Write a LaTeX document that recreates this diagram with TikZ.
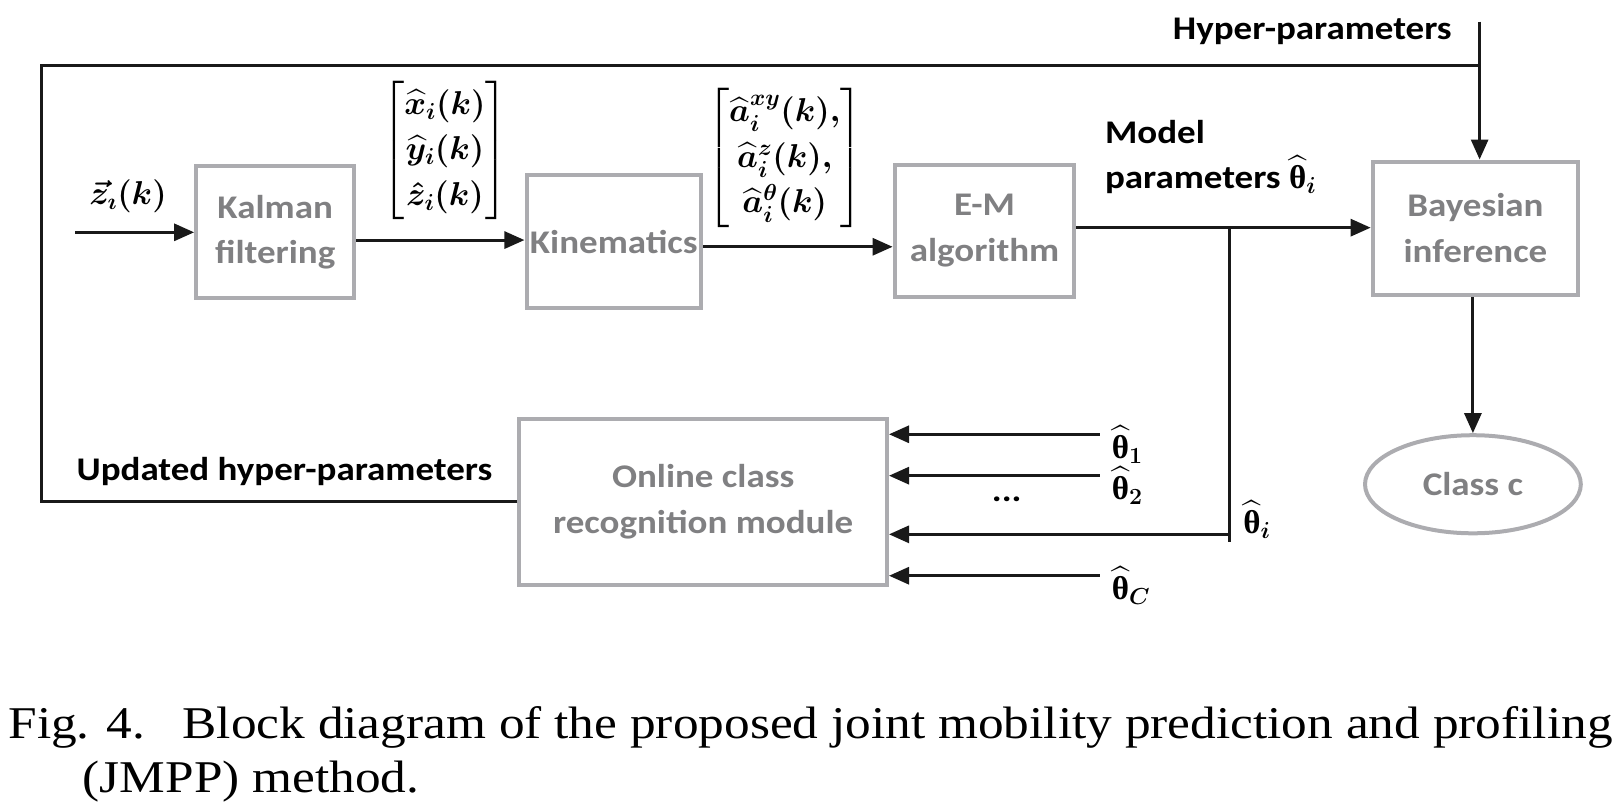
\RequirePackage{fix-cm}
\documentclass[tikz,border=0pt]{standalone}
\usepackage{amsmath,amssymb,amsfonts}
\usepackage{fontspec}
\setmainfont[FakeStretch=1.12]{Carlito}
\newfontfamily\capfont[FakeStretch=1.13]{Liberation Serif}
\newfontfamily\thfont{Liberation Serif}
\usepackage{tikz}
\usetikzlibrary{arrows.meta,shapes.geometric}

\definecolor{boxgray}{RGB}{172,172,176}
\definecolor{txtgray}{RGB}{128,128,130}
\newcommand{\thhat}{\widehat{\text{\thfont\bfseries θ}}}

\tikzset{
  blockbox/.style={draw=boxgray, line width=4pt, text=txtgray, align=center,
    font=\fontsize{32}{44}\selectfont\bfseries},
  wire/.style={line width=3pt, draw=black!90},
  flow/.style={wire, -{Triangle[length=20pt,width=17pt]}},
  lbl/.style={font=\fontsize{32}{44}\selectfont\bfseries\boldmath, align=left}
}

\begin{document}
\begin{tikzpicture}[x=1.0325pt,y=-1.0325pt,every node/.append style={scale=1.0325}]
      \useasboundingbox (0,0) rectangle (1568,778.7);
      % blocks
      \node[blockbox, minimum width=153, minimum height=128] (kalman) at (266.5,225) {Kalman\\filtering};
      \node[blockbox, minimum width=167, minimum height=129] (kin) at (594.5,234) {Kinematics};
      \node[blockbox, minimum width=174, minimum height=128] (em) at (953.5,223.5) {E-M\\algorithm};
      \node[blockbox, minimum width=199, minimum height=129] (bayes) at (1429,221) {Bayesian\\inference};
      \node[blockbox, minimum width=356, minimum height=161] (online) at (681,486) {Online class\\recognition module};
      \node[blockbox, ellipse, minimum width=209, minimum height=95] (class) at (1426.5,469) {Class c};
      % labels
      \node[lbl] (zin) at (124,190) {$\vec{z}_{\imath}(k)$};
      \node[lbl] (posvec) at (431,146) {$\begin{bmatrix}\widehat{x}_i(k)\\ \widehat{y}_i(k)\\ \hat{z}_i(k)\end{bmatrix}$};
      \node[lbl] (accvec) at (760,153) {$\begin{bmatrix}\widehat{a}_i^{xy}(k),\\ \widehat{a}_i^{z}(k),\\ \widehat{a}_i^{\theta}(k)\end{bmatrix}$};
      \node[lbl, anchor=north west, inner sep=0pt] (modpar) at (1070,116) {Model\\parameters $\thhat_i$};
      \node[lbl, anchor=base, inner sep=0pt] (hyplbl) at (1271,38) {Hyper-parameters};
      \node[lbl, anchor=base, inner sep=0pt] (updlbl) at (275.5,465) {Updated hyper-parameters};
      \node[lbl, anchor=base, inner sep=0pt] (dots) at (975,486) {...};
      \node[lbl, anchor=base west, inner sep=0pt] (thi) at (1204,516.5) {$\thhat_i$};
      % coordinates
      \coordinate (zstart) at (73,225);
      \coordinate (hyp) at (1433,21);
      \coordinate (fbk) at (40,63);
      \coordinate (split) at (1191,220.5);
      % main chain
      \draw[flow] (zstart) -- (kalman.west);
      \draw[flow] (kalman.east |- 0,232.5) -- (kin.west |- 0,232.5);
      \draw[flow] (kin.east |- 0,239) -- (em.west |- 0,239);
      \draw[flow] (em.east |- split) -- (bayes.west |- split);
      \draw[flow] (hyp) -- (hyp |- bayes.north);
      \draw[flow] (class.north |- bayes.south) -- (class.north);
      % feedback
      \draw[wire] (online.west) -| (fbk) -- (fbk -| hyp);
      % parameters into the module
      \draw[wire] (split) -- (split |- 0,524.6);
      \draw[flow] (split |- 0,517.5) -- (online.east |- 0,517.5);
      \foreach \y/\k in {420.6/1, 460.7/2, 557.6/C}{
        \coordinate (th\k) at (1065,\y);
        \draw[flow] (th\k) -- (online.east |- th\k);
        \node[lbl, anchor=base west, inner sep=0pt] at ([xshift=12pt,yshift=-24pt]th\k) {$\thhat_{\k}$};
      }
      % caption
      \node[anchor=base west, inner sep=0pt, font=\capfont\fontsize{44}{53}\selectfont] (cap1) at (8,715)
        {Fig. 4.\hspace{36pt}Block diagram of the proposed joint mobility prediction and profiling};
      \node[anchor=base west, inner sep=0pt, font=\capfont\fontsize{44}{53}\selectfont] (cap2) at (80,768)
        {(JMPP) method.};
    \end{tikzpicture}
\end{document}
